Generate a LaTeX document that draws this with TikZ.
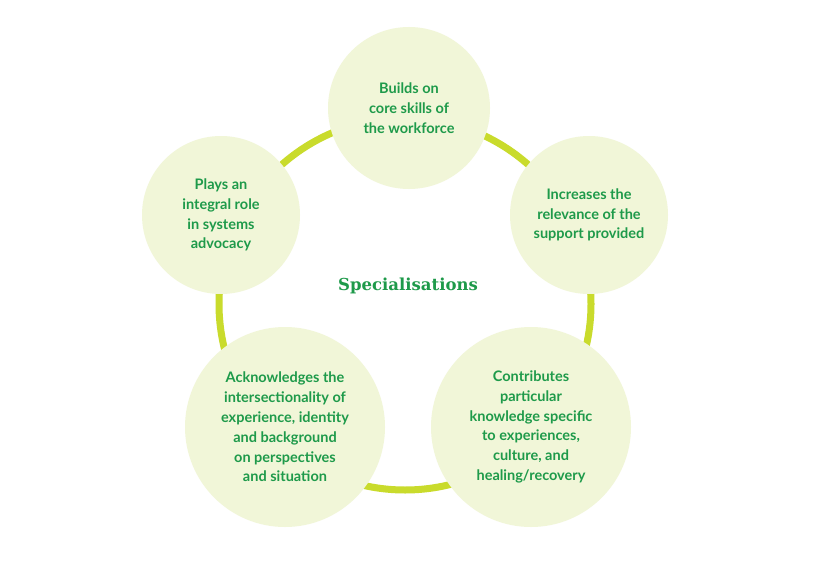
\documentclass[tikz,border=0pt]{standalone}
\usepackage{fontspec}
\setmainfont{Lato}
\newfontfamily\titlefont{DejaVu Serif}
\definecolor{ringc}{HTML}{C9DB2C}
\definecolor{fillc}{HTML}{F1F6D8}
\definecolor{txtc}{HTML}{1E9A4A}
\begin{document}
\begin{tikzpicture}[x=1pt,y=-1pt,
  bub/.style={circle,fill=fillc,text=txtc,align=center,font=\fontsize{14.5}{19.8}\selectfont\bfseries,inner sep=0pt},
  ringst/.style={draw=ringc,line width=7pt}]
\useasboundingbox[fill=white] (0,0) rectangle (813,567);
\draw[ringst] (405,304) circle (186);
\node[bub,minimum size=162] (top) at (409,108) {Builds on\\core skills of\\the workforce};
\node[bub,minimum size=158] (right) at (589,215) {Increases the\\relevance of the\\support provided};
\node[bub,minimum size=158] (left) at (221,215) {Plays an\\integral role\\in systems\\advocacy};
\node[bub,minimum size=200] (bl) at (285,427) {Acknowledges the\\intersectionality of\\experience, identity\\and background\\on perspectives\\and situation};
\node[bub,minimum size=200] (br) at (531,427) {Contributes\\particular\\knowledge specific\\to experiences,\\culture, and\\healing/recovery};
\node[text=txtc,font=\titlefont\bfseries\fontsize{16.5}{20}\selectfont] (title) at (408,286) {Specialisations};
\end{tikzpicture}
\end{document}
